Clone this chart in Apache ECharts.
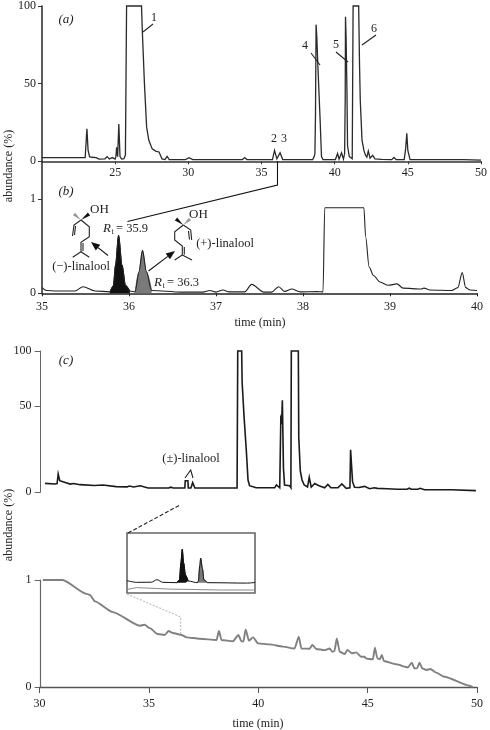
<!DOCTYPE html>
<html><head><meta charset="utf-8">
<style>html,body{margin:0;padding:0;background:#fff}#c{width:490px;height:730px}</style>
<script src="https://cdn.jsdelivr.net/npm/echarts@6/dist/echarts.min.js"></script>
</head><body><div id="c"></div>
<script>
// ---- Data: [time (min), abundance] ----
const traceA = [[20,2.4],[21.9,2.4],[22,2.9],[22.1,2.4],[22.95,2.4],[23.0,3],[23.07,21],[23.15,7],[23.25,3],[23.4,2.6],[23.7,2.4],[23.9,1.4],[24.3,1.6],[24.45,3],[24.6,1.5],[24.8,2.4],[25.0,1.5],[25.05,3],[25.1,9],[25.17,3],[25.25,24],[25.33,3],[25.45,1.4],[25.6,1.7],[25.7,4],[25.76,5],[25.78,100],[26.8,100],[26.86,83],[27.0,50],[27.15,22],[27.3,13.5],[27.53,8],[27.8,6.4],[28,6],[28.2,1.5],[28.4,1.1],[28.55,3.2],[28.7,1.1],[29.8,1.1],[30.05,2.3],[30.3,1.1],[30.8,1.1],[30.9,1.8],[31,1.1],[31.4,1.1],[31.5,1.8],[31.6,1.1],[32.0,1.1],[32.1,2],[32.2,1.1],[33.0,1.1],[33.1,1.7],[33.2,1.1],[33.7,1.1],[33.85,2.4],[34.0,1.1],[34.5,1.1],[34.6,1.7],[34.7,1.1],[35.75,1.1],[35.89,7],[36.05,1.6],[36.12,1.2],[36.27,5.5],[36.45,1.1],[37.9,1.1],[38,1.7],[38.1,1.1],[38.5,1.1],[38.6,3],[38.65,5],[38.69,30],[38.73,88],[38.78,80],[38.85,62],[39.0,28],[39.1,3],[39.2,1.1],[39.45,1.1],[39.55,2.2],[39.65,1.1],[40.05,1.1],[40.2,5],[40.3,1.4],[40.4,1.4],[40.47,5.5],[40.6,1.4],[40.68,5],[40.72,40],[40.74,93],[40.78,80],[40.84,45],[40.88,10],[41.0,3],[41.2,1.6],[41.25,1.6],[41.26,100],[41.64,100],[41.7,62],[41.75,39],[41.87,13.5],[42.0,7],[42.1,4],[42.2,2.6],[42.3,6.6],[42.42,2],[42.52,1.6],[42.6,3.8],[42.75,1.6],[43.0,1.4],[43.1,2],[43.2,1.2],[43.9,1.1],[44.05,2.5],[44.2,1.1],[44.75,1.1],[44.85,8],[44.93,18],[45,7],[45.15,1.1],[46,1.1],[46.1,1.8],[46.2,1.1],[46.85,1.1],[46.95,2.2],[47.15,1.1],[48.8,1.1],[48.85,0.8],[50,0.8]];
const traceB = [[35,0.06],[35.05,0.03],[35.17,0.025],[35.38,0.025],[35.47,0.07],[35.61,0.025],[35.78,0.015],[35.82,0.08],[35.845,0.3],[35.88,0.617],[35.92,0.3],[35.96,0.085],[36.01,0.025],[36.07,0.015],[36.115,0.23],[36.155,0.457],[36.2,0.23],[36.26,0.03],[36.6,0.012],[36.85,0.012],[36.93,0.03],[37.0,0.012],[37.08,0.035],[37.15,0.015],[37.33,0.015],[37.41,0.095],[37.55,0.013],[37.64,0.013],[37.72,0.07],[37.79,0.02],[37.87,0.045],[37.97,0.015],[38.16,0.018],[38.23,0.015],[38.25,0.91],[38.7,0.91],[38.72,0.6],[38.76,0.28],[38.81,0.19],[38.885,0.12],[38.98,0.085],[39.08,0.1],[39.15,0.055],[39.36,0.045],[39.39,0.055],[39.46,0.035],[39.71,0.03],[39.78,0.06],[39.83,0.22],[39.87,0.06],[39.92,0.035],[40,0.03]];
const peakMinusB = [[35.78,0.015],[35.82,0.08],[35.845,0.3],[35.88,0.617],[35.92,0.3],[35.96,0.085],[36.01,0.025]];
const peakPlusB = [[36.07,0.015],[36.115,0.23],[36.155,0.457],[36.2,0.23],[36.26,0.03]];
const traceC = [[30.25,6.1],[30.7,5.7],[30.8,6],[30.85,12.8],[30.92,8],[31.0,6.6],[31.4,5.6],[31.55,6],[31.85,5.2],[32.5,4.6],[32.9,5],[33.5,3.8],[34.0,3.6],[34.1,4.2],[34.3,3.6],[34.6,4.4],[34.96,2.8],[35.9,2.8],[36,3.4],[36.1,2.8],[36.64,2.8],[36.66,8],[36.78,8],[36.8,2.8],[36.92,2.8],[37.0,6.6],[37.1,2.8],[38.35,2.8],[38.4,3.4],[38.5,2.8],[39.03,2.8],[39.06,100],[39.24,100],[39.26,78],[39.35,53],[39.45,30],[39.53,8.5],[39.6,4.5],[39.9,3],[40.6,3],[40.66,4.2],[40.75,3],[40.83,5],[40.98,3],[41.03,52],[41.07,50],[41.1,65],[41.15,16.8],[41.2,5],[41.43,4.5],[41.49,3],[41.51,100],[41.83,100],[41.85,38.8],[41.92,15],[42.0,8.5],[42.1,5],[42.15,6],[42.25,3.6],[42.33,10.4],[42.42,3.4],[42.58,6],[42.75,4.6],[42.9,3.8],[43.03,3],[43.18,5.4],[43.32,3],[43.64,3],[43.82,5.7],[44.02,2.6],[44.19,3],[44.22,30],[44.28,30],[44.31,7.3],[44.4,3.4],[44.6,3.2],[44.86,4],[45.09,2.3],[45.3,3],[45.45,2.6],[45.9,2.3],[46.37,2],[46.8,2],[46.9,2.7],[47.0,2],[47.3,2],[47.4,2.6],[47.6,1.6],[48.8,1.6],[48.85,1],[49.95,1]];
const traceD = [[30.15,1],[31.05,1],[32.15,0.87],[32.3,0.86],[32.53,0.8],[33.35,0.7],[34.58,0.573],[34.8,0.582],[35.04,0.55],[35.4,0.495],[35.72,0.486],[35.9,0.523],[36.1,0.504],[36.49,0.486],[36.72,0.464],[37.32,0.451],[38.09,0.439],[38.2,0.523],[38.32,0.439],[38.84,0.427],[39.09,0.486],[39.23,0.427],[39.32,0.425],[39.42,0.539],[39.57,0.433],[39.76,0.464],[39.99,0.408],[40.52,0.398],[41.13,0.377],[41.66,0.36],[41.85,0.47],[41.97,0.36],[42.35,0.358],[42.47,0.393],[42.65,0.355],[43.03,0.345],[43.26,0.36],[43.38,0.33],[43.48,0.335],[43.59,0.454],[43.72,0.33],[43.95,0.308],[44.07,0.346],[44.28,0.315],[44.48,0.324],[44.71,0.283],[44.85,0.283],[44.94,0.265],[45.24,0.258],[45.33,0.367],[45.44,0.27],[45.55,0.258],[45.65,0.299],[45.74,0.243],[46.3,0.212],[46.84,0.184],[47.02,0.227],[47.14,0.174],[47.26,0.174],[47.37,0.227],[47.5,0.174],[47.68,0.159],[47.87,0.168],[48.13,0.134],[48.51,0.096],[49.65,0.012],[49.8,0]];
const insetTop = [[34.67,0.205],[34.88,0.178],[35.2,0.18],[35.32,0.222],[35.45,0.178],[35.75,0.172],[35.81,0.22],[35.84,0.5],[35.87,0.728],[35.9,0.5],[35.94,0.3],[36.0,0.2],[36.2,0.172],[36.22,0.2],[36.25,0.45],[36.27,0.58],[36.31,0.4],[36.34,0.22],[36.42,0.172],[37.27,0.165],[37.45,0.175]];
const insetMinus = [[35.75,0.172],[35.81,0.22],[35.84,0.5],[35.87,0.728],[35.9,0.5],[35.94,0.3],[36.0,0.2]];
const insetPlus = [[36.2,0.172],[36.22,0.2],[36.25,0.45],[36.27,0.58],[36.31,0.4],[36.34,0.22],[36.42,0.172]];
const insetLow = [[34.67,0.06],[34.88,0.09],[35.6,0.065],[36.7,0.05],[37.45,0.05]];

const ticksAX = [25,30,35,40,45,50];
const ticksAY = [0,50,100];
const ticksBX = [35,36,37,38,39,40];
const ticksBY = [0,1];
const ticksCY = [0,61,100];           // the reference's "50" tick sits off-linear on this panel
const labelsCY = {0:'0',61:'50',100:'100'};
const ticksDX = [30,35,40,45,50];
const ticksDY = [0,1];

const SERIF = '"Liberation Serif","Times New Roman",serif';
const INK = '#222';

function xAxis(idx,min,max,ticks,color,width,margin){return {type:'value',gridIndex:idx,min,max,
  axisLine:{show:true,onZero:false,lineStyle:{color,width}},
  axisTick:{show:true,customValues:ticks,length:idx===3?6:3,inside:false,lineStyle:{color,width:1}},
  axisLabel:{show:true,customValues:ticks,margin,color:INK,fontFamily:SERIF,fontSize:12,hideOverlap:false},
  splitLine:{show:false}};}
function yAxis(idx,min,max,ticks,color,width,fmt){return {type:'value',gridIndex:idx,min,max,
  axisLine:{show:true,onZero:false,lineStyle:{color,width}},
  axisTick:{show:true,customValues:ticks,length:idx>=2?6:4,lineStyle:{color,width:1}},
  axisLabel:{show:true,customValues:ticks,margin:idx>=2?9:6,color:INK,fontFamily:SERIF,fontSize:12,formatter:fmt||(v=>String(v))},
  splitLine:{show:false}};}
function line(idx,data,color,width,fill,smooth,origin){const s={type:'line',xAxisIndex:idx,yAxisIndex:idx,data,showSymbol:false,symbol:'none',
  clip:false,silent:true,smooth:smooth||false,smoothMonotone:'x',lineStyle:{color,width,join:'miter'},z:fill?6:7};
  if(fill)s.areaStyle={color:fill,opacity:1,origin:origin===undefined?'start':origin};return s;}

// ---- Annotation helpers (labels and structural drawings) ----
const T=(x,y,text,o={})=>({type:'text',x,y,silent:true,style:Object.assign({text,fill:INK,font:`${o.italic?'italic ':''}${o.size||12}px ${SERIF}`,textAlign:o.align||'center',textVerticalAlign:'middle'})});
const L=(pts,o={})=>({type:'polyline',silent:true,shape:{points:pts},style:{stroke:o.color||INK,lineWidth:o.w||1.1,fill:'none',lineDash:o.dash||null},z:o.z||10});
const P=(pts,fill)=>({type:'polygon',silent:true,shape:{points:pts},style:{fill:fill||INK,stroke:'none'},z:10});
function arrow(x1,y1,x2,y2){const a=Math.atan2(y2-y1,x2-x1),h=9,w=3.6,bx=x2-h*Math.cos(a),by=y2-h*Math.sin(a),nx=-Math.sin(a)*w,ny=Math.cos(a)*w;
  return [L([[x1,y1],[bx,by]],{color:'#111'}),P([[x2,y2],[bx+nx,by+ny],[bx-nx,by-ny]],'#111')];}
function rt(x,y,val){return [T(x,y,'R',{italic:true,align:'left',size:13}),T(x+8.5,y+3,'t',{size:8,align:'left'}),T(x+13,y,'= '+val,{align:'left',size:12.5})];}
function wedge(x1,y1,x2,y2){const dx=x2-x1,dy=y2-y1,l=Math.hypot(dx,dy),nx=-dy/l*1.8,ny=dx/l*1.8;return P([[x1,y1],[x2+nx,y2+ny],[x2-nx,y2-ny]],'#111');}
function hatch(x1,y1,x2,y2){const dx=x2-x1,dy=y2-y1,l=Math.hypot(dx,dy),nx=-dy/l*1.8,ny=dx/l*1.8;return P([[x1,y1],[x2+nx,y2+ny],[x2-nx,y2-ny]],'#999');}

const graphic = [
  T(66,20,'(a)',{italic:true,size:13}),T(66,192,'(b)',{italic:true,size:13}),T(66,361,'(c)',{italic:true,size:13}),
  {type:'text',x:9,y:166,rotation:Math.PI/2,silent:true,style:{text:'abundance (%)',fill:INK,font:`12px ${SERIF}`,textAlign:'center',textVerticalAlign:'middle'}},
  {type:'text',x:9,y:525,rotation:Math.PI/2,silent:true,style:{text:'abundance (%)',fill:INK,font:`12px ${SERIF}`,textAlign:'center',textVerticalAlign:'middle'}},
  T(260,323,'time (min)'),T(258,724,'time (min)'),
  T(154,18,'1'),L([[143,32],[153,24]]),T(274,139,'2'),T(284,139,'3'),
  T(305,46,'4'),L([[311,53],[320,65]]),T(336,45,'5'),L([[336,52],[348,62]]),T(374,29,'6'),L([[376,35],[362,45]]),
  L([[277.5,161],[277.5,185],[127.5,221.5]],{color:'#111'}),
  ...rt(103,229,'35.9'),...rt(154,283,'36.3'),
  T(81,266.5,'(\u2212)-linalool',{size:12.5}),T(225,244,'(+)-linalool',{size:12.5}),
  ...arrow(108,255.5,91,242),...arrow(148.5,271,175,251),
  L([[81,220],[74,225],[72.5,236]]),L([[75.5,226],[74.5,235]],{}),L([[81,220],[89.3,226.7],[89.3,236.7],[81,242.3],[81,251.7],[72.7,257.3]]),L([[81,251.7],[89.3,257.3]]),L([[83,243],[83,251]]),
  wedge(81,220,89,214),hatch(81,220,74,214),T(90,210,'OH',{align:'left',size:13}),
  L([[183.3,225],[190.7,230],[191.7,240]]),L([[188.5,231],[189.5,239.5]]),L([[183.3,225],[174.7,231.7],[174.7,240],[182.3,246],[182.3,255],[174.7,260]]),L([[182.3,255],[192,260]]),L([[184.3,247],[184.3,254.5]]),
  wedge(183.3,225,176,219),hatch(183.3,225,190,219),T(189,214.5,'OH',{align:'left',size:13}),
  T(191,459,'(\u00b1)-linalool',{size:12.5}),L([[185,478],[190.7,470],[193,478]]),
  L([[128,533],[180,505]],{dash:[4,2],color:'#222'}),
  L([[127,594],[180.7,617],[180.7,636]],{dash:[2,1.5],color:'#bbb'})
];

const option = {
  animation:false,backgroundColor:'#fff',graphic,
  grid:[
    {left:42,width:443,top:6,height:155.3},
    {left:42,width:435,top:161.4,height:131.9},
    {left:39.6,width:437.4,top:351,height:141},
    {left:39.6,width:437.4,top:580,height:107},
    {left:127,width:128,top:533,height:60,show:true,borderColor:'#666',borderWidth:1.6,backgroundColor:'#fff'}
  ],
  xAxis:[
    xAxis(0,20,50,ticksAX,'#333',1.6,6),
    xAxis(1,35,40,ticksBX,'#222',1.6,8),
    {type:'value',gridIndex:2,min:30,max:50,show:false},
    xAxis(3,30,50,ticksDX,'#555',1.3,11),
    {type:'value',gridIndex:4,min:34.67,max:37.45,show:false}
  ],
  yAxis:[
    yAxis(0,0,100,ticksAY,'#333',1.6),
    yAxis(1,0,1.403,ticksBY,'#333',1.6),
    Object.assign(yAxis(2,0,100,ticksCY,'#666',1,v=>labelsCY[v]),{offset:-1}),
    Object.assign(yAxis(3,0,1,ticksDY,'#666',1.2),{offset:-1}),
    {type:'value',gridIndex:4,min:0,max:1,show:false}
  ],
  series:[
    line(0,traceA,'#2a2a2a',1.3),
    line(1,peakMinusB,'#111',1,'#111',0.3),
    line(1,peakPlusB,'#7a7a7a',1,'#7a7a7a',0.3),
    line(1,traceB,'#222',1.1,null,0.3),
    line(2,traceC,'#1a1a1a',1.6),
    line(3,traceD,'#808080',1.9,null,0.2),
    line(4,insetMinus,'#111',1,'#111',0.3,0.172),
    line(4,insetPlus,'#7a7a7a',1,'#7a7a7a',0.3,0.172),
    line(4,insetTop,'#111',1,null,0.3),
    line(4,insetLow,'#8a8a8a',1)
  ]
};
echarts.init(document.getElementById('c'),null,{renderer:'canvas'}).setOption(option);
</script></body></html>
